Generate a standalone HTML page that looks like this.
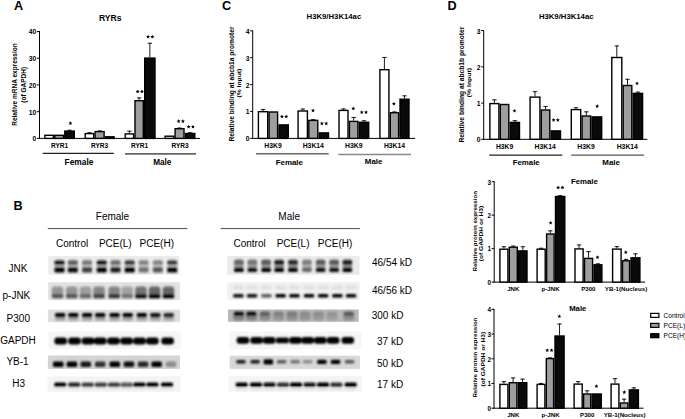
<!DOCTYPE html>
<html><head><meta charset="utf-8"><style>
html,body{margin:0;padding:0;background:#fff;}
body{width:685px;height:419px;overflow:hidden;position:relative;}
</style></head><body>
<svg width="685" height="419" viewBox="0 0 685 419" style="position:absolute;left:0;top:0">
<defs><filter id="b1" x="-20%" y="-50%" width="140%" height="200%"><feGaussianBlur stdDeviation="1.2"/></filter><filter id="be" x="-5%" y="-20%" width="110%" height="140%"><feGaussianBlur stdDeviation="0.6"/></filter><filter id="bb" x="-5%" y="-30%" width="110%" height="160%"><feGaussianBlur stdDeviation="0.8 0.9"/></filter></defs>
<g font-family='"Liberation Sans", sans-serif'>
<text x="14" y="10.4" font-size="12.7" font-weight="bold" text-anchor="start" fill="#000" >A</text>
<text x="110.3" y="21.1" font-size="8.6" font-weight="bold" text-anchor="middle" fill="#000" >RYRs</text>
<line x1="39.5" y1="31.0" x2="39.5" y2="138.9" stroke="#000" stroke-width="1.0"/>
<line x1="39.0" y1="138.4" x2="200" y2="138.4" stroke="#000" stroke-width="1.0"/>
<line x1="37.0" y1="138.4" x2="39.5" y2="138.4" stroke="#000" stroke-width="1.0"/>
<text x="36.2" y="141.368" font-size="6.7410000000000005" font-weight="bold" text-anchor="end" fill="#000" >0</text>
<line x1="37.0" y1="111.67500000000001" x2="39.5" y2="111.67500000000001" stroke="#000" stroke-width="1.0"/>
<text x="36.2" y="114.64300000000001" font-size="6.7410000000000005" font-weight="bold" text-anchor="end" fill="#000" >10</text>
<line x1="37.0" y1="84.95" x2="39.5" y2="84.95" stroke="#000" stroke-width="1.0"/>
<text x="36.2" y="87.918" font-size="6.7410000000000005" font-weight="bold" text-anchor="end" fill="#000" >20</text>
<line x1="37.0" y1="58.224999999999994" x2="39.5" y2="58.224999999999994" stroke="#000" stroke-width="1.0"/>
<text x="36.2" y="61.193" font-size="6.7410000000000005" font-weight="bold" text-anchor="end" fill="#000" >30</text>
<line x1="37.0" y1="31.5" x2="39.5" y2="31.5" stroke="#000" stroke-width="1.0"/>
<text x="36.2" y="34.468" font-size="6.7410000000000005" font-weight="bold" text-anchor="end" fill="#000" >40</text>
<text transform="translate(17.3,84.5) rotate(-90)" x="0" y="0" font-size="6.5" font-weight="bold" text-anchor="middle" fill="#000">Relative mRNA expression</text>
<text transform="translate(25.5,84.8) rotate(-90)" x="0" y="0" font-size="6.5" font-weight="bold" text-anchor="middle" fill="#000">(of GAPDH)</text>
<rect x="44.90" y="135.30" width="8.50" height="3.10" fill="#fff" stroke="#000" stroke-width="1.4"/>
<rect x="54.80" y="135.30" width="8.60" height="3.10" fill="#9e9e9e" stroke="#000" stroke-width="1.4"/>
<line x1="69.55" y1="129.8" x2="69.55" y2="130.4" stroke="#000" stroke-width="0.9"/>
<line x1="67.35" y1="130.25" x2="71.75" y2="130.25" stroke="#000" stroke-width="0.9"/>
<rect x="64.80" y="131.10" width="9.50" height="7.30" fill="#0a0a0a" stroke="#000" stroke-width="1.4"/>
<line x1="89.45" y1="132.3" x2="89.45" y2="132.9" stroke="#000" stroke-width="0.9"/>
<line x1="87.25" y1="132.75" x2="91.65" y2="132.75" stroke="#000" stroke-width="0.9"/>
<rect x="85.20" y="133.60" width="8.50" height="4.80" fill="#fff" stroke="#000" stroke-width="1.4"/>
<line x1="99.6" y1="130.5" x2="99.6" y2="130.9" stroke="#000" stroke-width="0.9"/>
<line x1="97.39999999999999" y1="130.95" x2="101.8" y2="130.95" stroke="#000" stroke-width="0.9"/>
<rect x="95.10" y="131.60" width="9.00" height="6.80" fill="#9e9e9e" stroke="#000" stroke-width="1.4"/>
<rect x="105.50" y="136.80" width="8.60" height="1.60" fill="#0a0a0a" stroke="#000" stroke-width="1.4"/>
<line x1="129.4" y1="130.7" x2="129.4" y2="133.2" stroke="#000" stroke-width="0.9"/>
<line x1="127.2" y1="131.14999999999998" x2="131.6" y2="131.14999999999998" stroke="#000" stroke-width="0.9"/>
<rect x="125.20" y="133.90" width="8.40" height="4.50" fill="#fff" stroke="#000" stroke-width="1.4"/>
<line x1="139.15" y1="97.5" x2="139.15" y2="100" stroke="#000" stroke-width="0.9"/>
<line x1="136.95000000000002" y1="97.95" x2="141.35" y2="97.95" stroke="#000" stroke-width="0.9"/>
<rect x="135.00" y="100.70" width="8.30" height="37.70" fill="#9e9e9e" stroke="#000" stroke-width="1.4"/>
<line x1="149.85" y1="42.8" x2="149.85" y2="57.4" stroke="#000" stroke-width="0.9"/>
<line x1="147.65" y1="43.25" x2="152.04999999999998" y2="43.25" stroke="#000" stroke-width="0.9"/>
<rect x="144.70" y="58.10" width="10.30" height="80.30" fill="#0a0a0a" stroke="#000" stroke-width="1.4"/>
<rect x="165.10" y="136.20" width="8.60" height="2.20" fill="#fff" stroke="#000" stroke-width="1.4"/>
<line x1="179.55" y1="127.6" x2="179.55" y2="128" stroke="#000" stroke-width="0.9"/>
<line x1="177.35000000000002" y1="128.04999999999998" x2="181.75" y2="128.04999999999998" stroke="#000" stroke-width="0.9"/>
<rect x="175.10" y="128.70" width="8.90" height="9.70" fill="#9e9e9e" stroke="#000" stroke-width="1.4"/>
<line x1="190.1" y1="132.3" x2="190.1" y2="132.8" stroke="#000" stroke-width="0.9"/>
<line x1="187.9" y1="132.75" x2="192.29999999999998" y2="132.75" stroke="#000" stroke-width="0.9"/>
<rect x="185.40" y="133.50" width="9.40" height="4.90" fill="#0a0a0a" stroke="#000" stroke-width="1.4"/>
<polygon points="70.40,121.15 70.96,122.49 72.40,122.60 71.30,123.54 71.63,124.95 70.40,124.19 69.17,124.95 69.50,123.54 68.40,122.60 69.84,122.49" fill="#000"/>
<polygon points="137.65,89.50 138.21,90.84 139.65,90.95 138.55,91.89 138.88,93.30 137.65,92.54 136.42,93.30 136.75,91.89 135.65,90.95 137.09,90.84" fill="#000"/>
<polygon points="141.95,89.50 142.51,90.84 143.95,90.95 142.85,91.89 143.18,93.30 141.95,92.54 140.72,93.30 141.05,91.89 139.95,90.95 141.39,90.84" fill="#000"/>
<polygon points="148.10,34.75 148.66,36.09 150.10,36.20 149.00,37.14 149.33,38.55 148.10,37.80 146.87,38.55 147.20,37.14 146.10,36.20 147.54,36.09" fill="#000"/>
<polygon points="152.40,34.75 152.96,36.09 154.40,36.20 153.30,37.14 153.63,38.55 152.40,37.80 151.17,38.55 151.50,37.14 150.40,36.20 151.84,36.09" fill="#000"/>
<polygon points="178.65,119.10 179.21,120.44 180.65,120.55 179.55,121.49 179.88,122.90 178.65,122.14 177.42,122.90 177.75,121.49 176.65,120.55 178.09,120.44" fill="#000"/>
<polygon points="182.95,119.10 183.51,120.44 184.95,120.55 183.85,121.49 184.18,122.90 182.95,122.14 181.72,122.90 182.05,121.49 180.95,120.55 182.39,120.44" fill="#000"/>
<polygon points="188.65,124.70 189.21,126.04 190.65,126.15 189.55,127.09 189.88,128.50 188.65,127.74 187.42,128.50 187.75,127.09 186.65,126.15 188.09,126.04" fill="#000"/>
<polygon points="192.95,124.70 193.51,126.04 194.95,126.15 193.85,127.09 194.18,128.50 192.95,127.74 191.72,128.50 192.05,127.09 190.95,126.15 192.39,126.04" fill="#000"/>
<text x="59.6" y="148.3" font-size="6.5" font-weight="bold" text-anchor="middle" fill="#000" >RYR1</text>
<text x="99.6" y="148.3" font-size="6.5" font-weight="bold" text-anchor="middle" fill="#000" >RYR3</text>
<text x="139.6" y="148.3" font-size="6.5" font-weight="bold" text-anchor="middle" fill="#000" >RYR1</text>
<text x="180" y="148.3" font-size="6.5" font-weight="bold" text-anchor="middle" fill="#000" >RYR3</text>
<line x1="42.7" y1="153.4" x2="113.8" y2="153.4" stroke="#222" stroke-width="1.3"/>
<line x1="125" y1="153.9" x2="196" y2="153.9" stroke="#666" stroke-width="1.6"/>
<text x="79" y="165" font-size="8.4" font-weight="bold" text-anchor="middle" fill="#000" >Female</text>
<text x="162.3" y="164.7" font-size="8.2" font-weight="bold" text-anchor="middle" fill="#000" >Male</text>
<text x="221.9" y="10.4" font-size="12.7" font-weight="bold" text-anchor="start" fill="#000" >C</text>
<text x="333.9" y="19.4" font-size="7.6" font-weight="bold" text-anchor="middle" fill="#000" textLength="54.6" lengthAdjust="spacingAndGlyphs">H3K9/H3K14ac</text>
<line x1="252.7" y1="30.3" x2="252.7" y2="138.9" stroke="#000" stroke-width="1.0"/>
<line x1="252.2" y1="138.4" x2="415.1" y2="138.4" stroke="#000" stroke-width="1.0"/>
<line x1="250.2" y1="138.4" x2="252.7" y2="138.4" stroke="#000" stroke-width="1.0"/>
<text x="249.6" y="141.368" font-size="6.7410000000000005" font-weight="bold" text-anchor="end" fill="#000" >0</text>
<line x1="250.2" y1="111.5" x2="252.7" y2="111.5" stroke="#000" stroke-width="1.0"/>
<text x="249.6" y="114.468" font-size="6.7410000000000005" font-weight="bold" text-anchor="end" fill="#000" >1</text>
<line x1="250.2" y1="84.6" x2="252.7" y2="84.6" stroke="#000" stroke-width="1.0"/>
<text x="249.6" y="87.568" font-size="6.7410000000000005" font-weight="bold" text-anchor="end" fill="#000" >2</text>
<line x1="250.2" y1="57.7" x2="252.7" y2="57.7" stroke="#000" stroke-width="1.0"/>
<text x="249.6" y="60.668000000000006" font-size="6.7410000000000005" font-weight="bold" text-anchor="end" fill="#000" >3</text>
<line x1="250.2" y1="30.799999999999997" x2="252.7" y2="30.799999999999997" stroke="#000" stroke-width="1.0"/>
<text x="249.6" y="33.768" font-size="6.7410000000000005" font-weight="bold" text-anchor="end" fill="#000" >4</text>
<text transform="translate(233.6,84.0) rotate(-90)" x="0" y="0" font-size="6.6" font-weight="bold" text-anchor="middle" fill="#000" textLength="115" lengthAdjust="spacingAndGlyphs">Relative binding at abcb1a promoter</text>
<text transform="translate(241,83.1) rotate(-90)" x="0" y="0" font-size="6.1" font-weight="bold" text-anchor="middle" fill="#000" textLength="28.8" lengthAdjust="spacingAndGlyphs">(% Input)</text>
<line x1="263.04999999999995" y1="109" x2="263.04999999999995" y2="111" stroke="#000" stroke-width="0.9"/>
<line x1="260.84999999999997" y1="109.45" x2="265.24999999999994" y2="109.45" stroke="#000" stroke-width="0.9"/>
<rect x="258.40" y="111.70" width="9.30" height="26.70" fill="#fff" stroke="#000" stroke-width="1.4"/>
<rect x="269.10" y="112.00" width="8.50" height="26.40" fill="#9e9e9e" stroke="#000" stroke-width="1.4"/>
<rect x="279.00" y="124.90" width="9.30" height="13.50" fill="#0a0a0a" stroke="#000" stroke-width="1.4"/>
<line x1="302.75" y1="108.6" x2="302.75" y2="110.3" stroke="#000" stroke-width="0.9"/>
<line x1="300.55" y1="109.05" x2="304.95" y2="109.05" stroke="#000" stroke-width="0.9"/>
<rect x="298.10" y="111.00" width="9.30" height="27.40" fill="#fff" stroke="#000" stroke-width="1.4"/>
<line x1="313.3" y1="119.2" x2="313.3" y2="119.7" stroke="#000" stroke-width="0.9"/>
<line x1="311.1" y1="119.65" x2="315.5" y2="119.65" stroke="#000" stroke-width="0.9"/>
<rect x="308.80" y="120.40" width="9.00" height="18.00" fill="#9e9e9e" stroke="#000" stroke-width="1.4"/>
<rect x="319.20" y="132.90" width="9.30" height="5.50" fill="#0a0a0a" stroke="#000" stroke-width="1.4"/>
<line x1="343.5" y1="108.5" x2="343.5" y2="109.7" stroke="#000" stroke-width="0.9"/>
<line x1="341.3" y1="108.95" x2="345.7" y2="108.95" stroke="#000" stroke-width="0.9"/>
<rect x="339.00" y="110.40" width="9.00" height="28.00" fill="#fff" stroke="#000" stroke-width="1.4"/>
<line x1="353.65" y1="117" x2="353.65" y2="120.7" stroke="#000" stroke-width="0.9"/>
<line x1="351.45" y1="117.45" x2="355.84999999999997" y2="117.45" stroke="#000" stroke-width="0.9"/>
<rect x="349.40" y="121.40" width="8.50" height="17.00" fill="#9e9e9e" stroke="#000" stroke-width="1.4"/>
<line x1="364.0" y1="120.3" x2="364.0" y2="121.6" stroke="#000" stroke-width="0.9"/>
<line x1="361.8" y1="120.75" x2="366.2" y2="120.75" stroke="#000" stroke-width="0.9"/>
<rect x="359.30" y="122.30" width="9.40" height="16.10" fill="#0a0a0a" stroke="#000" stroke-width="1.4"/>
<line x1="384.4" y1="57" x2="384.4" y2="69" stroke="#000" stroke-width="0.9"/>
<line x1="382.2" y1="57.45" x2="386.59999999999997" y2="57.45" stroke="#000" stroke-width="0.9"/>
<rect x="379.90" y="69.70" width="9.00" height="68.70" fill="#fff" stroke="#000" stroke-width="1.4"/>
<line x1="394.45000000000005" y1="111.5" x2="394.45000000000005" y2="112" stroke="#000" stroke-width="0.9"/>
<line x1="392.25000000000006" y1="111.95" x2="396.65000000000003" y2="111.95" stroke="#000" stroke-width="0.9"/>
<rect x="390.30" y="112.70" width="8.30" height="25.70" fill="#9e9e9e" stroke="#000" stroke-width="1.4"/>
<line x1="404.5" y1="95.4" x2="404.5" y2="98.5" stroke="#000" stroke-width="0.9"/>
<line x1="402.3" y1="95.85000000000001" x2="406.7" y2="95.85000000000001" stroke="#000" stroke-width="0.9"/>
<rect x="400.00" y="99.20" width="9.00" height="39.20" fill="#0a0a0a" stroke="#000" stroke-width="1.4"/>
<polygon points="281.95,114.50 282.51,115.84 283.95,115.95 282.85,116.89 283.18,118.30 281.95,117.54 280.72,118.30 281.05,116.89 279.95,115.95 281.39,115.84" fill="#000"/>
<polygon points="286.25,114.50 286.81,115.84 288.25,115.95 287.15,116.89 287.48,118.30 286.25,117.54 285.02,118.30 285.35,116.89 284.25,115.95 285.69,115.84" fill="#000"/>
<polygon points="313.00,108.40 313.56,109.74 315.00,109.85 313.90,110.79 314.23,112.20 313.00,111.44 311.77,112.20 312.10,110.79 311.00,109.85 312.44,109.74" fill="#000"/>
<polygon points="321.90,121.40 322.46,122.74 323.90,122.85 322.80,123.79 323.13,125.20 321.90,124.44 320.67,125.20 321.00,123.79 319.90,122.85 321.34,122.74" fill="#000"/>
<polygon points="326.20,121.40 326.76,122.74 328.20,122.85 327.10,123.79 327.43,125.20 326.20,124.44 324.97,125.20 325.30,123.79 324.20,122.85 325.64,122.74" fill="#000"/>
<polygon points="353.30,106.50 353.86,107.84 355.30,107.95 354.20,108.89 354.53,110.30 353.30,109.54 352.07,110.30 352.40,108.89 351.30,107.95 352.74,107.84" fill="#000"/>
<polygon points="361.75,110.20 362.31,111.54 363.75,111.65 362.65,112.59 362.98,114.00 361.75,113.24 360.52,114.00 360.85,112.59 359.75,111.65 361.19,111.54" fill="#000"/>
<polygon points="366.05,110.20 366.61,111.54 368.05,111.65 366.95,112.59 367.28,114.00 366.05,113.24 364.82,114.00 365.15,112.59 364.05,111.65 365.49,111.54" fill="#000"/>
<polygon points="393.90,101.70 394.46,103.04 395.90,103.15 394.80,104.09 395.13,105.50 393.90,104.74 392.67,105.50 393.00,104.09 391.90,103.15 393.34,103.04" fill="#000"/>
<text x="273" y="148.2" font-size="6.8" font-weight="bold" text-anchor="middle" fill="#000" >H3K9</text>
<text x="313.3" y="148.2" font-size="6.8" font-weight="bold" text-anchor="middle" fill="#000" >H3K14</text>
<text x="353.8" y="148.2" font-size="6.8" font-weight="bold" text-anchor="middle" fill="#000" >H3K9</text>
<text x="394.5" y="148.2" font-size="6.8" font-weight="bold" text-anchor="middle" fill="#000" >H3K14</text>
<line x1="256" y1="153.8" x2="328.7" y2="153.8" stroke="#666" stroke-width="1.6"/>
<line x1="338.3" y1="154.5" x2="411" y2="154.5" stroke="#888" stroke-width="1.3"/>
<text x="289.3" y="164.5" font-size="8.0" font-weight="bold" text-anchor="middle" fill="#000" textLength="27.3" lengthAdjust="spacingAndGlyphs">Female</text>
<text x="373.6" y="164.4" font-size="8.0" font-weight="bold" text-anchor="middle" fill="#000" textLength="17.6" lengthAdjust="spacingAndGlyphs">Male</text>
<text x="447.5" y="10.4" font-size="12.7" font-weight="bold" text-anchor="start" fill="#000" >D</text>
<text x="566.2" y="19.4" font-size="7.6" font-weight="bold" text-anchor="middle" fill="#000" textLength="54.6" lengthAdjust="spacingAndGlyphs">H3K9/H3K14ac</text>
<line x1="483.7" y1="30.1" x2="483.7" y2="139.8" stroke="#000" stroke-width="1.0"/>
<line x1="483.2" y1="139.3" x2="647.4" y2="139.3" stroke="#000" stroke-width="1.0"/>
<line x1="481.2" y1="139.3" x2="483.7" y2="139.3" stroke="#000" stroke-width="1.0"/>
<text x="480.6" y="142.268" font-size="6.7410000000000005" font-weight="bold" text-anchor="end" fill="#000" >0</text>
<line x1="481.2" y1="103.06666666666666" x2="483.7" y2="103.06666666666666" stroke="#000" stroke-width="1.0"/>
<text x="480.6" y="106.03466666666667" font-size="6.7410000000000005" font-weight="bold" text-anchor="end" fill="#000" >1</text>
<line x1="481.2" y1="66.83333333333333" x2="483.7" y2="66.83333333333333" stroke="#000" stroke-width="1.0"/>
<text x="480.6" y="69.80133333333333" font-size="6.7410000000000005" font-weight="bold" text-anchor="end" fill="#000" >2</text>
<line x1="481.2" y1="30.599999999999994" x2="483.7" y2="30.599999999999994" stroke="#000" stroke-width="1.0"/>
<text x="480.6" y="33.568" font-size="6.7410000000000005" font-weight="bold" text-anchor="end" fill="#000" >3</text>
<text transform="translate(463.6,84.6) rotate(-90)" x="0" y="0" font-size="6.6" font-weight="bold" text-anchor="middle" fill="#000" textLength="116" lengthAdjust="spacingAndGlyphs">Relative binding at abcb1b promoter</text>
<text transform="translate(470.5,82.6) rotate(-90)" x="0" y="0" font-size="6.1" font-weight="bold" text-anchor="middle" fill="#000" textLength="29.2" lengthAdjust="spacingAndGlyphs">(% Input)</text>
<line x1="494.4" y1="99.4" x2="494.4" y2="102.9" stroke="#000" stroke-width="0.9"/>
<line x1="492.2" y1="99.85000000000001" x2="496.59999999999997" y2="99.85000000000001" stroke="#000" stroke-width="0.9"/>
<rect x="489.90" y="103.60" width="9.00" height="35.70" fill="#fff" stroke="#000" stroke-width="1.4"/>
<rect x="500.30" y="104.50" width="8.50" height="34.80" fill="#9e9e9e" stroke="#000" stroke-width="1.4"/>
<line x1="514.85" y1="120.2" x2="514.85" y2="121.7" stroke="#000" stroke-width="0.9"/>
<line x1="512.65" y1="120.65" x2="517.0500000000001" y2="120.65" stroke="#000" stroke-width="0.9"/>
<rect x="510.20" y="122.40" width="9.30" height="16.90" fill="#0a0a0a" stroke="#000" stroke-width="1.4"/>
<line x1="535.0" y1="91.2" x2="535.0" y2="96.4" stroke="#000" stroke-width="0.9"/>
<line x1="532.8" y1="91.65" x2="537.2" y2="91.65" stroke="#000" stroke-width="0.9"/>
<rect x="530.10" y="97.10" width="9.80" height="42.20" fill="#fff" stroke="#000" stroke-width="1.4"/>
<line x1="545.55" y1="106" x2="545.55" y2="109.3" stroke="#000" stroke-width="0.9"/>
<line x1="543.3499999999999" y1="106.45" x2="547.75" y2="106.45" stroke="#000" stroke-width="0.9"/>
<rect x="541.30" y="110.00" width="8.50" height="29.30" fill="#9e9e9e" stroke="#000" stroke-width="1.4"/>
<rect x="551.20" y="130.90" width="9.30" height="8.40" fill="#0a0a0a" stroke="#000" stroke-width="1.4"/>
<line x1="576.0" y1="107.3" x2="576.0" y2="108.9" stroke="#000" stroke-width="0.9"/>
<line x1="573.8" y1="107.75" x2="578.2" y2="107.75" stroke="#000" stroke-width="0.9"/>
<rect x="571.30" y="109.60" width="9.40" height="29.70" fill="#fff" stroke="#000" stroke-width="1.4"/>
<line x1="586.3499999999999" y1="111.4" x2="586.3499999999999" y2="115.3" stroke="#000" stroke-width="0.9"/>
<line x1="584.1499999999999" y1="111.85000000000001" x2="588.55" y2="111.85000000000001" stroke="#000" stroke-width="0.9"/>
<rect x="582.10" y="116.00" width="8.50" height="23.30" fill="#9e9e9e" stroke="#000" stroke-width="1.4"/>
<rect x="592.00" y="116.90" width="9.70" height="22.40" fill="#0a0a0a" stroke="#000" stroke-width="1.4"/>
<line x1="616.8" y1="45.5" x2="616.8" y2="56.8" stroke="#000" stroke-width="0.9"/>
<line x1="614.5999999999999" y1="45.95" x2="619.0" y2="45.95" stroke="#000" stroke-width="0.9"/>
<rect x="611.80" y="57.50" width="10.00" height="81.80" fill="#fff" stroke="#000" stroke-width="1.4"/>
<line x1="627.5" y1="78.8" x2="627.5" y2="84.8" stroke="#000" stroke-width="0.9"/>
<line x1="625.3" y1="79.25" x2="629.7" y2="79.25" stroke="#000" stroke-width="0.9"/>
<rect x="623.20" y="85.50" width="8.60" height="53.80" fill="#9e9e9e" stroke="#000" stroke-width="1.4"/>
<line x1="637.9" y1="91.7" x2="637.9" y2="92.7" stroke="#000" stroke-width="0.9"/>
<line x1="635.6999999999999" y1="92.15" x2="640.1" y2="92.15" stroke="#000" stroke-width="0.9"/>
<rect x="633.20" y="93.40" width="9.40" height="45.90" fill="#0a0a0a" stroke="#000" stroke-width="1.4"/>
<polygon points="514.50,108.80 515.06,110.14 516.50,110.25 515.40,111.19 515.73,112.60 514.50,111.84 513.27,112.60 513.60,111.19 512.50,110.25 513.94,110.14" fill="#000"/>
<polygon points="553.55,117.90 554.11,119.24 555.55,119.35 554.45,120.29 554.78,121.70 553.55,120.94 552.32,121.70 552.65,120.29 551.55,119.35 552.99,119.24" fill="#000"/>
<polygon points="557.85,117.90 558.41,119.24 559.85,119.35 558.75,120.29 559.08,121.70 557.85,120.94 556.62,121.70 556.95,120.29 555.85,119.35 557.29,119.24" fill="#000"/>
<polygon points="597.20,104.10 597.76,105.44 599.20,105.55 598.10,106.49 598.43,107.90 597.20,107.14 595.97,107.90 596.30,106.49 595.20,105.55 596.64,105.44" fill="#000"/>
<polygon points="637.00,81.30 637.56,82.64 639.00,82.75 637.90,83.69 638.23,85.10 637.00,84.34 635.77,85.10 636.10,83.69 635.00,82.75 636.44,82.64" fill="#000"/>
<text x="504.6" y="149" font-size="6.8" font-weight="bold" text-anchor="middle" fill="#000" >H3K9</text>
<text x="545.2" y="149" font-size="6.8" font-weight="bold" text-anchor="middle" fill="#000" >H3K14</text>
<text x="586" y="149" font-size="6.8" font-weight="bold" text-anchor="middle" fill="#000" >H3K9</text>
<text x="627.3" y="149" font-size="6.8" font-weight="bold" text-anchor="middle" fill="#000" >H3K14</text>
<line x1="489.2" y1="155.1" x2="562.3" y2="155.1" stroke="#222" stroke-width="1.2"/>
<line x1="571.2" y1="155.1" x2="643.9" y2="155.1" stroke="#555" stroke-width="1.1"/>
<text x="526.2" y="165.4" font-size="8.0" font-weight="bold" text-anchor="middle" fill="#000" textLength="27.1" lengthAdjust="spacingAndGlyphs">Female</text>
<text x="611.1" y="165.3" font-size="8.0" font-weight="bold" text-anchor="middle" fill="#000" textLength="17.6" lengthAdjust="spacingAndGlyphs">Male</text>
<line x1="494.2" y1="181.2" x2="494.2" y2="282.6" stroke="#000" stroke-width="1.0"/>
<line x1="493.7" y1="282.1" x2="645.2" y2="282.1" stroke="#000" stroke-width="1.0"/>
<line x1="491.7" y1="282.1" x2="494.2" y2="282.1" stroke="#000" stroke-width="1.0"/>
<text x="491.2" y="284.96000000000004" font-size="6.42" font-weight="bold" text-anchor="end" fill="#000" >0</text>
<line x1="491.7" y1="248.63333333333335" x2="494.2" y2="248.63333333333335" stroke="#000" stroke-width="1.0"/>
<text x="491.2" y="251.49333333333334" font-size="6.42" font-weight="bold" text-anchor="end" fill="#000" >1</text>
<line x1="491.7" y1="215.16666666666669" x2="494.2" y2="215.16666666666669" stroke="#000" stroke-width="1.0"/>
<text x="491.2" y="218.02666666666667" font-size="6.42" font-weight="bold" text-anchor="end" fill="#000" >2</text>
<line x1="491.7" y1="181.7" x2="494.2" y2="181.7" stroke="#000" stroke-width="1.0"/>
<text x="491.2" y="184.55999999999997" font-size="6.42" font-weight="bold" text-anchor="end" fill="#000" >3</text>
<text transform="translate(477.2,231.3) rotate(-90)" x="0" y="0" font-size="6.1" font-weight="bold" text-anchor="middle" fill="#000" textLength="80.5" lengthAdjust="spacingAndGlyphs">Relative protein expression</text>
<text transform="translate(483.4,233.5) rotate(-90)" x="0" y="0" font-size="6.1" font-weight="bold" text-anchor="middle" fill="#000" textLength="55.5" lengthAdjust="spacingAndGlyphs">(of GAPDH or H3)</text>
<text x="584.4" y="184.2" font-size="7.8" font-weight="bold" text-anchor="middle" fill="#000" >Female</text>
<line x1="503.9" y1="246.3" x2="503.9" y2="248.5" stroke="#000" stroke-width="0.9"/>
<line x1="501.7" y1="246.75" x2="506.09999999999997" y2="246.75" stroke="#000" stroke-width="0.9"/>
<rect x="499.90" y="249.20" width="8.00" height="32.90" fill="#fff" stroke="#000" stroke-width="1.4"/>
<line x1="513.3" y1="245.6" x2="513.3" y2="246.5" stroke="#000" stroke-width="0.9"/>
<line x1="511.09999999999997" y1="246.04999999999998" x2="515.5" y2="246.04999999999998" stroke="#000" stroke-width="0.9"/>
<rect x="509.30" y="247.20" width="8.00" height="34.90" fill="#9e9e9e" stroke="#000" stroke-width="1.4"/>
<line x1="522.85" y1="246.3" x2="522.85" y2="250.2" stroke="#000" stroke-width="0.9"/>
<line x1="520.65" y1="246.75" x2="525.0500000000001" y2="246.75" stroke="#000" stroke-width="0.9"/>
<rect x="518.70" y="250.90" width="8.30" height="31.20" fill="#0a0a0a" stroke="#000" stroke-width="1.4"/>
<line x1="541.15" y1="247.8" x2="541.15" y2="248.5" stroke="#000" stroke-width="0.9"/>
<line x1="538.9499999999999" y1="248.25" x2="543.35" y2="248.25" stroke="#000" stroke-width="0.9"/>
<rect x="537.10" y="249.20" width="8.10" height="32.90" fill="#fff" stroke="#000" stroke-width="1.4"/>
<line x1="550.3499999999999" y1="230.4" x2="550.3499999999999" y2="233.3" stroke="#000" stroke-width="0.9"/>
<line x1="548.1499999999999" y1="230.85" x2="552.55" y2="230.85" stroke="#000" stroke-width="0.9"/>
<rect x="546.60" y="234.00" width="7.50" height="48.10" fill="#9e9e9e" stroke="#000" stroke-width="1.4"/>
<line x1="560.15" y1="195.2" x2="560.15" y2="195.8" stroke="#000" stroke-width="0.9"/>
<line x1="557.9499999999999" y1="195.64999999999998" x2="562.35" y2="195.64999999999998" stroke="#000" stroke-width="0.9"/>
<rect x="555.50" y="196.50" width="9.30" height="85.60" fill="#0a0a0a" stroke="#000" stroke-width="1.4"/>
<line x1="579.05" y1="244.5" x2="579.05" y2="248.2" stroke="#000" stroke-width="0.9"/>
<line x1="576.8499999999999" y1="244.95" x2="581.25" y2="244.95" stroke="#000" stroke-width="0.9"/>
<rect x="575.00" y="248.90" width="8.10" height="33.20" fill="#fff" stroke="#000" stroke-width="1.4"/>
<line x1="588.55" y1="251.2" x2="588.55" y2="257.7" stroke="#000" stroke-width="0.9"/>
<line x1="586.3499999999999" y1="251.64999999999998" x2="590.75" y2="251.64999999999998" stroke="#000" stroke-width="0.9"/>
<rect x="584.50" y="258.40" width="8.10" height="23.70" fill="#9e9e9e" stroke="#000" stroke-width="1.4"/>
<line x1="597.95" y1="263.4" x2="597.95" y2="264.1" stroke="#000" stroke-width="0.9"/>
<line x1="595.75" y1="263.84999999999997" x2="600.1500000000001" y2="263.84999999999997" stroke="#000" stroke-width="0.9"/>
<rect x="594.00" y="264.80" width="7.90" height="17.30" fill="#0a0a0a" stroke="#000" stroke-width="1.4"/>
<line x1="616.8499999999999" y1="246.2" x2="616.8499999999999" y2="248.4" stroke="#000" stroke-width="0.9"/>
<line x1="614.6499999999999" y1="246.64999999999998" x2="619.05" y2="246.64999999999998" stroke="#000" stroke-width="0.9"/>
<rect x="612.60" y="249.10" width="8.50" height="33.00" fill="#fff" stroke="#000" stroke-width="1.4"/>
<line x1="626.05" y1="258.9" x2="626.05" y2="260.1" stroke="#000" stroke-width="0.9"/>
<line x1="623.8499999999999" y1="259.34999999999997" x2="628.25" y2="259.34999999999997" stroke="#000" stroke-width="0.9"/>
<rect x="622.50" y="260.80" width="7.10" height="21.30" fill="#9e9e9e" stroke="#000" stroke-width="1.4"/>
<line x1="635.45" y1="253.4" x2="635.45" y2="257.1" stroke="#000" stroke-width="0.9"/>
<line x1="633.25" y1="253.85" x2="637.6500000000001" y2="253.85" stroke="#000" stroke-width="0.9"/>
<rect x="631.00" y="257.80" width="8.90" height="24.30" fill="#0a0a0a" stroke="#000" stroke-width="1.4"/>
<polygon points="550.60,220.80 551.16,222.14 552.60,222.25 551.50,223.19 551.83,224.60 550.60,223.84 549.37,224.60 549.70,223.19 548.60,222.25 550.04,222.14" fill="#000"/>
<polygon points="558.15,185.50 558.71,186.84 560.15,186.95 559.05,187.89 559.38,189.30 558.15,188.54 556.92,189.30 557.25,187.89 556.15,186.95 557.59,186.84" fill="#000"/>
<polygon points="562.45,185.50 563.01,186.84 564.45,186.95 563.35,187.89 563.68,189.30 562.45,188.54 561.22,189.30 561.55,187.89 560.45,186.95 561.89,186.84" fill="#000"/>
<polygon points="597.50,255.20 598.06,256.54 599.50,256.65 598.40,257.59 598.73,259.00 597.50,258.25 596.27,259.00 596.60,257.59 595.50,256.65 596.94,256.54" fill="#000"/>
<polygon points="625.80,250.20 626.36,251.54 627.80,251.65 626.70,252.59 627.03,254.00 625.80,253.25 624.57,254.00 624.90,252.59 623.80,251.65 625.24,251.54" fill="#000"/>
<text x="513.3" y="290.8" font-size="6.1" font-weight="bold" text-anchor="middle" fill="#000" >JNK</text>
<text x="550.6" y="290.8" font-size="6.1" font-weight="bold" text-anchor="middle" fill="#000" >p-JNK</text>
<text x="588.3" y="290.8" font-size="6.1" font-weight="bold" text-anchor="middle" fill="#000" >P300</text>
<text x="626.05" y="290.8" font-size="6.1" font-weight="bold" text-anchor="middle" fill="#000" textLength="42.4" lengthAdjust="spacingAndGlyphs">YB-1(Nucleus)</text>
<line x1="494.0" y1="308.8" x2="494.0" y2="408.7" stroke="#000" stroke-width="1.0"/>
<line x1="493.5" y1="408.2" x2="643.5" y2="408.2" stroke="#000" stroke-width="1.0"/>
<line x1="491.5" y1="408.2" x2="494.0" y2="408.2" stroke="#000" stroke-width="1.0"/>
<text x="491.0" y="411.06" font-size="6.42" font-weight="bold" text-anchor="end" fill="#000" >0</text>
<line x1="491.5" y1="383.475" x2="494.0" y2="383.475" stroke="#000" stroke-width="1.0"/>
<text x="491.0" y="386.33500000000004" font-size="6.42" font-weight="bold" text-anchor="end" fill="#000" >1</text>
<line x1="491.5" y1="358.75" x2="494.0" y2="358.75" stroke="#000" stroke-width="1.0"/>
<text x="491.0" y="361.61" font-size="6.42" font-weight="bold" text-anchor="end" fill="#000" >2</text>
<line x1="491.5" y1="334.025" x2="494.0" y2="334.025" stroke="#000" stroke-width="1.0"/>
<text x="491.0" y="336.885" font-size="6.42" font-weight="bold" text-anchor="end" fill="#000" >3</text>
<line x1="491.5" y1="309.3" x2="494.0" y2="309.3" stroke="#000" stroke-width="1.0"/>
<text x="491.0" y="312.16" font-size="6.42" font-weight="bold" text-anchor="end" fill="#000" >4</text>
<text transform="translate(477.2,357.6) rotate(-90)" x="0" y="0" font-size="6.1" font-weight="bold" text-anchor="middle" fill="#000" textLength="80" lengthAdjust="spacingAndGlyphs">Relative protein expression</text>
<text transform="translate(484.6,359.2) rotate(-90)" x="0" y="0" font-size="6.1" font-weight="bold" text-anchor="middle" fill="#000" textLength="54.6" lengthAdjust="spacingAndGlyphs">(of GAPDH or H3)</text>
<text x="577.8" y="311.3" font-size="7.8" font-weight="bold" text-anchor="middle" fill="#000" >Male</text>
<line x1="503.9" y1="381.2" x2="503.9" y2="383.7" stroke="#000" stroke-width="0.9"/>
<line x1="501.7" y1="381.65" x2="506.09999999999997" y2="381.65" stroke="#000" stroke-width="0.9"/>
<rect x="499.90" y="384.40" width="8.00" height="23.80" fill="#fff" stroke="#000" stroke-width="1.4"/>
<line x1="513.1" y1="377.5" x2="513.1" y2="382" stroke="#000" stroke-width="0.9"/>
<line x1="510.90000000000003" y1="377.95" x2="515.3000000000001" y2="377.95" stroke="#000" stroke-width="0.9"/>
<rect x="509.30" y="382.70" width="7.60" height="25.50" fill="#9e9e9e" stroke="#000" stroke-width="1.4"/>
<line x1="522.55" y1="378.7" x2="522.55" y2="382" stroke="#000" stroke-width="0.9"/>
<line x1="520.3499999999999" y1="379.15" x2="524.75" y2="379.15" stroke="#000" stroke-width="0.9"/>
<rect x="518.30" y="382.70" width="8.50" height="25.50" fill="#0a0a0a" stroke="#000" stroke-width="1.4"/>
<line x1="541.0" y1="383" x2="541.0" y2="383.7" stroke="#000" stroke-width="0.9"/>
<line x1="538.8" y1="383.45" x2="543.2" y2="383.45" stroke="#000" stroke-width="0.9"/>
<rect x="537.10" y="384.40" width="7.80" height="23.80" fill="#fff" stroke="#000" stroke-width="1.4"/>
<line x1="549.95" y1="357.4" x2="549.95" y2="357.9" stroke="#000" stroke-width="0.9"/>
<line x1="547.75" y1="357.84999999999997" x2="552.1500000000001" y2="357.84999999999997" stroke="#000" stroke-width="0.9"/>
<rect x="546.30" y="358.60" width="7.30" height="49.60" fill="#9e9e9e" stroke="#000" stroke-width="1.4"/>
<line x1="559.55" y1="323.6" x2="559.55" y2="335.3" stroke="#000" stroke-width="0.9"/>
<line x1="557.3499999999999" y1="324.05" x2="561.75" y2="324.05" stroke="#000" stroke-width="0.9"/>
<rect x="555.00" y="336.00" width="9.10" height="72.20" fill="#0a0a0a" stroke="#000" stroke-width="1.4"/>
<line x1="578.15" y1="381.2" x2="578.15" y2="383.4" stroke="#000" stroke-width="0.9"/>
<line x1="575.9499999999999" y1="381.65" x2="580.35" y2="381.65" stroke="#000" stroke-width="0.9"/>
<rect x="574.10" y="384.10" width="8.10" height="24.10" fill="#fff" stroke="#000" stroke-width="1.4"/>
<line x1="587.15" y1="390.4" x2="587.15" y2="393.3" stroke="#000" stroke-width="0.9"/>
<line x1="584.9499999999999" y1="390.84999999999997" x2="589.35" y2="390.84999999999997" stroke="#000" stroke-width="0.9"/>
<rect x="583.60" y="394.00" width="7.10" height="14.20" fill="#9e9e9e" stroke="#000" stroke-width="1.4"/>
<rect x="592.10" y="394.00" width="9.20" height="14.20" fill="#0a0a0a" stroke="#000" stroke-width="1.4"/>
<line x1="615.0" y1="378.2" x2="615.0" y2="383.4" stroke="#000" stroke-width="0.9"/>
<line x1="612.8" y1="378.65" x2="617.2" y2="378.65" stroke="#000" stroke-width="0.9"/>
<rect x="611.10" y="384.10" width="7.80" height="24.10" fill="#fff" stroke="#000" stroke-width="1.4"/>
<line x1="624.1" y1="398.7" x2="624.1" y2="402.3" stroke="#000" stroke-width="0.9"/>
<line x1="621.9" y1="399.15" x2="626.3000000000001" y2="399.15" stroke="#000" stroke-width="0.9"/>
<rect x="620.30" y="403.00" width="7.60" height="5.20" fill="#9e9e9e" stroke="#000" stroke-width="1.4"/>
<line x1="633.85" y1="387.4" x2="633.85" y2="389.2" stroke="#000" stroke-width="0.9"/>
<line x1="631.65" y1="387.84999999999997" x2="636.0500000000001" y2="387.84999999999997" stroke="#000" stroke-width="0.9"/>
<rect x="629.30" y="389.90" width="9.10" height="18.30" fill="#0a0a0a" stroke="#000" stroke-width="1.4"/>
<polygon points="547.25,348.20 547.81,349.54 549.25,349.65 548.15,350.59 548.48,352.00 547.25,351.25 546.02,352.00 546.35,350.59 545.25,349.65 546.69,349.54" fill="#000"/>
<polygon points="551.55,348.20 552.11,349.54 553.55,349.65 552.45,350.59 552.78,352.00 551.55,351.25 550.32,352.00 550.65,350.59 549.55,349.65 550.99,349.54" fill="#000"/>
<polygon points="559.30,314.30 559.86,315.64 561.30,315.75 560.20,316.69 560.53,318.10 559.30,317.34 558.07,318.10 558.40,316.69 557.30,315.75 558.74,315.64" fill="#000"/>
<polygon points="596.40,384.10 596.96,385.44 598.40,385.55 597.30,386.49 597.63,387.90 596.40,387.14 595.17,387.90 595.50,386.49 594.40,385.55 595.84,385.44" fill="#000"/>
<polygon points="624.30,390.10 624.86,391.44 626.30,391.55 625.20,392.49 625.53,393.90 624.30,393.14 623.07,393.90 623.40,392.49 622.30,391.55 623.74,391.44" fill="#000"/>
<text x="513.3" y="417" font-size="6.1" font-weight="bold" text-anchor="middle" fill="#000" >JNK</text>
<text x="550.6" y="417" font-size="6.1" font-weight="bold" text-anchor="middle" fill="#000" >p-JNK</text>
<text x="587.2" y="417" font-size="6.1" font-weight="bold" text-anchor="middle" fill="#000" >P300</text>
<text x="624.6" y="417" font-size="6.1" font-weight="bold" text-anchor="middle" fill="#000" textLength="41.8" lengthAdjust="spacingAndGlyphs">YB-1(Nucleus)</text>
<rect x="650.7" y="313.40000000000003" width="8.200000000000001" height="4.0" fill="#fff" stroke="#000" stroke-width="1.2"/>
<text x="663.5" y="318.0" font-size="6.6" font-weight="normal" text-anchor="start" fill="#000" >Control</text>
<rect x="650.7" y="323.40000000000003" width="8.200000000000001" height="4.0" fill="#9e9e9e" stroke="#000" stroke-width="1.2"/>
<text x="663.5" y="328.0" font-size="6.6" font-weight="normal" text-anchor="start" fill="#000" >PCE(L)</text>
<rect x="650.7" y="333.70000000000005" width="8.200000000000001" height="4.0" fill="#0a0a0a" stroke="#000" stroke-width="1.2"/>
<text x="663.5" y="338.3" font-size="6.6" font-weight="normal" text-anchor="start" fill="#000" >PCE(H)</text>
<text x="13.4" y="210.1" font-size="12.7" font-weight="bold" text-anchor="start" fill="#000" >B</text>
<text x="112.5" y="220.1" font-size="10" font-weight="normal" text-anchor="middle" fill="#000" >Female</text>
<text x="289.2" y="220.1" font-size="10" font-weight="normal" text-anchor="middle" fill="#000" >Male</text>
<line x1="47.8" y1="228.6" x2="187.3" y2="228.6" stroke="#4a4a4a" stroke-width="1.0"/>
<line x1="220.7" y1="228.6" x2="359.9" y2="228.6" stroke="#4a4a4a" stroke-width="1.0"/>
<text x="72.1" y="246.9" font-size="10" font-weight="normal" text-anchor="middle" fill="#000" >Control</text>
<text x="115.3" y="246.9" font-size="10" font-weight="normal" text-anchor="middle" fill="#000" >PCE(L)</text>
<text x="156.8" y="246.9" font-size="10" font-weight="normal" text-anchor="middle" fill="#000" >PCE(H)</text>
<text x="249.6" y="246.9" font-size="10" font-weight="normal" text-anchor="middle" fill="#000" >Control</text>
<text x="293.1" y="246.9" font-size="10" font-weight="normal" text-anchor="middle" fill="#000" >PCE(L)</text>
<text x="335.1" y="246.9" font-size="10" font-weight="normal" text-anchor="middle" fill="#000" >PCE(H)</text>
<text x="18" y="272" font-size="10" font-weight="normal" text-anchor="middle" fill="#000" >JNK</text>
<text x="16.4" y="298.7" font-size="10" font-weight="normal" text-anchor="middle" fill="#000" >p-JNK</text>
<text x="18.3" y="322" font-size="10" font-weight="normal" text-anchor="middle" fill="#000" >P300</text>
<text x="18" y="343.8" font-size="10" font-weight="normal" text-anchor="middle" fill="#000" >GAPDH</text>
<text x="17.5" y="365" font-size="10" font-weight="normal" text-anchor="middle" fill="#000" >YB-1</text>
<text x="18.7" y="386.8" font-size="10" font-weight="normal" text-anchor="middle" fill="#000" >H3</text>
<text x="372" y="265.6" font-size="10" font-weight="normal" text-anchor="start" fill="#000" >46/54 kD</text>
<text x="372" y="293.5" font-size="10" font-weight="normal" text-anchor="start" fill="#000" >46/56 kD</text>
<text x="371.7" y="319.3" font-size="10" font-weight="normal" text-anchor="start" fill="#000" >300 kD</text>
<text x="377" y="344.8" font-size="10" font-weight="normal" text-anchor="start" fill="#000" >37 kD</text>
<text x="377" y="366.6" font-size="10" font-weight="normal" text-anchor="start" fill="#000" >50 kD</text>
<text x="377" y="388.3" font-size="10" font-weight="normal" text-anchor="start" fill="#000" >17 kD</text>
<g filter="url(#be)"><rect x="48.3" y="255.9" width="131.1" height="18.8" fill="#ececec"/></g>
<g filter="url(#bb)">
<rect x="54.5" y="259.5" width="10.0" height="13.0" rx="3.0" fill="#b2b2b2"/>
<rect x="67.8" y="259.5" width="10.0" height="13.0" rx="3.0" fill="#b8b8b8"/>
<rect x="82.1" y="259.5" width="10.0" height="13.0" rx="3.0" fill="#c2c2c2"/>
<rect x="96.7" y="259.5" width="10.0" height="13.0" rx="3.0" fill="#b2b2b2"/>
<rect x="110.5" y="259.5" width="10.0" height="13.0" rx="3.0" fill="#bdbdbd"/>
<rect x="124.7" y="259.5" width="10.0" height="13.0" rx="3.0" fill="#b8b8b8"/>
<rect x="138.6" y="259.5" width="10.0" height="13.0" rx="3.0" fill="#c7c7c7"/>
<rect x="152.8" y="259.5" width="10.0" height="13.0" rx="3.0" fill="#c7c7c7"/>
<rect x="167.2" y="259.5" width="10.0" height="13.0" rx="3.0" fill="#bdbdbd"/>
<rect x="54.5" y="260.5" width="10.0" height="4.2" rx="1.5" fill="#000000"/>
<rect x="67.8" y="260.5" width="10.0" height="4.2" rx="1.5" fill="#595959"/>
<rect x="82.1" y="260.5" width="10.0" height="4.2" rx="1.5" fill="#737373"/>
<rect x="96.7" y="260.5" width="10.0" height="4.2" rx="1.5" fill="#000000"/>
<rect x="110.5" y="260.5" width="10.0" height="4.2" rx="1.5" fill="#666666"/>
<rect x="124.7" y="260.5" width="10.0" height="4.2" rx="1.5" fill="#333333"/>
<rect x="138.6" y="260.5" width="10.0" height="4.2" rx="1.5" fill="#808080"/>
<rect x="152.8" y="260.5" width="10.0" height="4.2" rx="1.5" fill="#808080"/>
<rect x="167.2" y="260.5" width="10.0" height="4.2" rx="1.5" fill="#333333"/>
<rect x="54.5" y="267.0" width="10.0" height="5.4" rx="1.5" fill="#000000"/>
<rect x="67.8" y="267.0" width="10.0" height="5.4" rx="1.5" fill="#0d0d0d"/>
<rect x="82.1" y="267.0" width="10.0" height="5.4" rx="1.5" fill="#404040"/>
<rect x="96.7" y="267.0" width="10.0" height="5.4" rx="1.5" fill="#000000"/>
<rect x="110.5" y="267.0" width="10.0" height="5.4" rx="1.5" fill="#1f1f1f"/>
<rect x="124.7" y="267.0" width="10.0" height="5.4" rx="1.5" fill="#000000"/>
<rect x="138.6" y="267.0" width="10.0" height="5.4" rx="1.5" fill="#737373"/>
<rect x="152.8" y="267.0" width="10.0" height="5.4" rx="1.5" fill="#595959"/>
<rect x="167.2" y="267.0" width="10.0" height="5.4" rx="1.5" fill="#000000"/>
</g>
<g filter="url(#be)"><rect x="48.2" y="282.2" width="131.7" height="17.9" fill="#e2e2e2"/></g>
<g filter="url(#bb)">
<rect x="51.8" y="286.5" width="11.5" height="10.0" rx="3.0" fill="#949494"/>
<rect x="66.0" y="286.5" width="11.5" height="10.0" rx="3.0" fill="#949494"/>
<rect x="79.7" y="286.5" width="11.5" height="10.0" rx="3.0" fill="#9e9e9e"/>
<rect x="93.3" y="286.5" width="11.5" height="10.0" rx="3.0" fill="#858585"/>
<rect x="108.5" y="286.5" width="11.5" height="10.0" rx="3.0" fill="#858585"/>
<rect x="121.5" y="286.5" width="11.5" height="10.0" rx="3.0" fill="#a3a3a3"/>
<rect x="135.2" y="286.5" width="11.5" height="10.0" rx="3.0" fill="#737373"/>
<rect x="148.8" y="286.5" width="11.5" height="10.0" rx="3.0" fill="#666666"/>
<rect x="162.7" y="286.5" width="11.5" height="10.0" rx="3.0" fill="#666666"/>
<rect x="51.8" y="294.1" width="11.5" height="4.2" rx="1.5" fill="#525252"/>
<rect x="66.0" y="294.1" width="11.5" height="4.2" rx="1.5" fill="#525252"/>
<rect x="79.7" y="294.1" width="11.5" height="4.2" rx="1.5" fill="#666666"/>
<rect x="93.3" y="294.1" width="11.5" height="4.2" rx="1.5" fill="#404040"/>
<rect x="108.5" y="294.1" width="11.5" height="4.2" rx="1.5" fill="#333333"/>
<rect x="121.5" y="294.1" width="11.5" height="4.2" rx="1.5" fill="#737373"/>
<rect x="135.2" y="294.1" width="11.5" height="4.2" rx="1.5" fill="#0d0d0d"/>
<rect x="148.8" y="294.1" width="11.5" height="4.2" rx="1.5" fill="#000000"/>
<rect x="162.7" y="294.1" width="11.5" height="4.2" rx="1.5" fill="#000000"/>
</g>
<g filter="url(#be)"><rect x="47.9" y="309.7" width="132.1" height="12.4" fill="#dedede"/></g>
<g filter="url(#bb)">
<rect x="55.1" y="316.6" width="10.2" height="4.5" rx="1.5" fill="#adadad"/>
<rect x="68.2" y="316.6" width="10.2" height="4.5" rx="1.5" fill="#adadad"/>
<rect x="82.0" y="316.6" width="10.2" height="4.5" rx="1.5" fill="#adadad"/>
<rect x="95.1" y="316.6" width="10.2" height="4.5" rx="1.5" fill="#adadad"/>
<rect x="109.5" y="316.6" width="10.2" height="4.5" rx="1.5" fill="#adadad"/>
<rect x="122.6" y="316.6" width="10.2" height="4.5" rx="1.5" fill="#adadad"/>
<rect x="136.7" y="316.6" width="10.2" height="4.5" rx="1.5" fill="#adadad"/>
<rect x="150.2" y="316.6" width="10.2" height="4.5" rx="1.5" fill="#adadad"/>
<rect x="163.6" y="316.6" width="10.2" height="4.5" rx="1.5" fill="#adadad"/>
<rect x="55.1" y="312.9" width="10.2" height="4.6" rx="1.5" fill="#000000"/>
<rect x="68.2" y="312.9" width="10.2" height="4.6" rx="1.5" fill="#000000"/>
<rect x="82.0" y="312.9" width="10.2" height="4.6" rx="1.5" fill="#000000"/>
<rect x="95.1" y="312.9" width="10.2" height="4.6" rx="1.5" fill="#000000"/>
<rect x="109.5" y="312.9" width="10.2" height="4.6" rx="1.5" fill="#000000"/>
<rect x="122.6" y="312.9" width="10.2" height="4.6" rx="1.5" fill="#000000"/>
<rect x="136.7" y="312.9" width="10.2" height="4.6" rx="1.5" fill="#000000"/>
<rect x="150.2" y="312.9" width="10.2" height="4.6" rx="1.5" fill="#0d0d0d"/>
<rect x="163.6" y="312.9" width="10.2" height="4.6" rx="1.5" fill="#262626"/>
</g>
<g filter="url(#be)"><rect x="48.5" y="331.5" width="132.5" height="17.8" fill="#f6f6f6"/></g>
<g filter="url(#bb)">
<rect x="54.4" y="337.5" width="12.6" height="7.0" rx="3.0" fill="#000000"/>
<rect x="68.2" y="337.5" width="12.6" height="7.0" rx="3.0" fill="#000000"/>
<rect x="81.7" y="337.5" width="12.6" height="7.0" rx="3.0" fill="#000000"/>
<rect x="93.9" y="337.5" width="12.6" height="7.0" rx="3.0" fill="#000000"/>
<rect x="107.2" y="337.5" width="12.6" height="7.0" rx="3.0" fill="#000000"/>
<rect x="120.3" y="337.5" width="12.6" height="7.0" rx="3.0" fill="#000000"/>
<rect x="133.2" y="337.5" width="12.6" height="7.0" rx="3.0" fill="#000000"/>
<rect x="146.1" y="337.5" width="12.6" height="7.0" rx="3.0" fill="#000000"/>
<rect x="161.3" y="337.5" width="12.6" height="7.0" rx="3.0" fill="#000000"/>
</g>
<g filter="url(#be)"><rect x="47.9" y="355.5" width="132.1" height="13.4" fill="#d4d4d4"/></g>
<g filter="url(#bb)">
<rect x="53.0" y="361.5" width="10.5" height="5.6" rx="1.5" fill="#000000"/>
<rect x="66.7" y="361.5" width="10.5" height="5.6" rx="1.5" fill="#000000"/>
<rect x="80.5" y="361.5" width="10.5" height="5.6" rx="1.5" fill="#191919"/>
<rect x="95.0" y="361.5" width="10.5" height="5.6" rx="1.5" fill="#333333"/>
<rect x="109.5" y="361.5" width="10.5" height="5.6" rx="1.5" fill="#000000"/>
<rect x="123.7" y="361.5" width="10.5" height="5.6" rx="1.5" fill="#0d0d0d"/>
<rect x="137.8" y="361.5" width="10.5" height="5.6" rx="1.5" fill="#262626"/>
<rect x="151.4" y="361.5" width="10.5" height="5.6" rx="1.5" fill="#000000"/>
<rect x="165.8" y="361.5" width="10.5" height="5.6" rx="1.5" fill="#8c8c8c"/>
</g>
<g filter="url(#be)"><rect x="47.5" y="376.3" width="133.0" height="15.5" fill="#f4f4f4"/></g>
<g filter="url(#bb)">
<rect x="54.2" y="387.8" width="12.0" height="1.5" rx="0.8" fill="#e0e0e0"/>
<rect x="68.2" y="387.8" width="12.0" height="1.5" rx="0.8" fill="#e0e0e0"/>
<rect x="81.7" y="387.8" width="12.0" height="1.5" rx="0.8" fill="#e0e0e0"/>
<rect x="94.9" y="387.8" width="12.0" height="1.5" rx="0.8" fill="#e0e0e0"/>
<rect x="108.0" y="387.8" width="12.0" height="1.5" rx="0.8" fill="#e0e0e0"/>
<rect x="120.6" y="387.8" width="12.0" height="1.5" rx="0.8" fill="#e0e0e0"/>
<rect x="133.3" y="387.8" width="12.0" height="1.5" rx="0.8" fill="#e0e0e0"/>
<rect x="146.4" y="387.8" width="12.0" height="1.5" rx="0.8" fill="#e0e0e0"/>
<rect x="161.0" y="387.8" width="12.0" height="1.5" rx="0.8" fill="#e0e0e0"/>
<rect x="54.2" y="382.4" width="12.0" height="4.5" rx="1.5" fill="#000000"/>
<rect x="68.2" y="382.4" width="12.0" height="4.5" rx="1.5" fill="#262626"/>
<rect x="81.7" y="382.4" width="12.0" height="4.5" rx="1.5" fill="#404040"/>
<rect x="94.9" y="382.4" width="12.0" height="4.5" rx="1.5" fill="#404040"/>
<rect x="108.0" y="382.4" width="12.0" height="4.5" rx="1.5" fill="#404040"/>
<rect x="120.6" y="382.4" width="12.0" height="4.5" rx="1.5" fill="#595959"/>
<rect x="133.3" y="382.4" width="12.0" height="4.5" rx="1.5" fill="#000000"/>
<rect x="146.4" y="382.4" width="12.0" height="4.5" rx="1.5" fill="#000000"/>
<rect x="161.0" y="382.4" width="12.0" height="4.5" rx="1.5" fill="#000000"/>
</g>
<g filter="url(#be)"><rect x="227.2" y="255.9" width="132.4" height="19.0" fill="#ebebeb"/></g>
<g filter="url(#bb)">
<rect x="234.1" y="259.0" width="9.5" height="13.0" rx="3.0" fill="#9e9e9e"/>
<rect x="247.6" y="259.0" width="9.5" height="13.0" rx="3.0" fill="#a6a6a6"/>
<rect x="261.4" y="259.0" width="9.5" height="13.0" rx="3.0" fill="#9e9e9e"/>
<rect x="274.4" y="259.0" width="9.5" height="13.0" rx="3.0" fill="#949494"/>
<rect x="288.2" y="259.0" width="9.5" height="13.0" rx="3.0" fill="#999999"/>
<rect x="302.2" y="259.0" width="9.5" height="13.0" rx="3.0" fill="#b2b2b2"/>
<rect x="315.9" y="259.0" width="9.5" height="13.0" rx="3.0" fill="#a3a3a3"/>
<rect x="329.4" y="259.0" width="9.5" height="13.0" rx="3.0" fill="#a3a3a3"/>
<rect x="342.6" y="259.0" width="9.5" height="13.0" rx="3.0" fill="#949494"/>
<rect x="234.1" y="260.0" width="9.5" height="4.8" rx="1.5" fill="#666666"/>
<rect x="247.6" y="260.0" width="9.5" height="4.8" rx="1.5" fill="#737373"/>
<rect x="261.4" y="260.0" width="9.5" height="4.8" rx="1.5" fill="#595959"/>
<rect x="274.4" y="260.0" width="9.5" height="4.8" rx="1.5" fill="#191919"/>
<rect x="288.2" y="260.0" width="9.5" height="4.8" rx="1.5" fill="#262626"/>
<rect x="302.2" y="260.0" width="9.5" height="4.8" rx="1.5" fill="#808080"/>
<rect x="315.9" y="260.0" width="9.5" height="4.8" rx="1.5" fill="#595959"/>
<rect x="329.4" y="260.0" width="9.5" height="4.8" rx="1.5" fill="#595959"/>
<rect x="342.6" y="260.0" width="9.5" height="4.8" rx="1.5" fill="#191919"/>
<rect x="234.1" y="267.5" width="9.5" height="4.6" rx="1.5" fill="#000000"/>
<rect x="247.6" y="267.5" width="9.5" height="4.6" rx="1.5" fill="#0d0d0d"/>
<rect x="261.4" y="267.5" width="9.5" height="4.6" rx="1.5" fill="#000000"/>
<rect x="274.4" y="267.5" width="9.5" height="4.6" rx="1.5" fill="#000000"/>
<rect x="288.2" y="267.5" width="9.5" height="4.6" rx="1.5" fill="#000000"/>
<rect x="302.2" y="267.5" width="9.5" height="4.6" rx="1.5" fill="#666666"/>
<rect x="315.9" y="267.5" width="9.5" height="4.6" rx="1.5" fill="#0d0d0d"/>
<rect x="329.4" y="267.5" width="9.5" height="4.6" rx="1.5" fill="#0d0d0d"/>
<rect x="342.6" y="267.5" width="9.5" height="4.6" rx="1.5" fill="#000000"/>
</g>
<g filter="url(#be)"><rect x="227.2" y="282.3" width="132.4" height="17.4" fill="#f0f0f0"/></g>
<g filter="url(#bb)">
<rect x="233.1" y="285.5" width="10.5" height="4.0" rx="1.5" fill="#e0e0e0"/>
<rect x="246.8" y="285.5" width="10.5" height="4.0" rx="1.5" fill="#e0e0e0"/>
<rect x="261.2" y="285.5" width="10.5" height="4.0" rx="1.5" fill="#e0e0e0"/>
<rect x="275.4" y="285.5" width="10.5" height="4.0" rx="1.5" fill="#e0e0e0"/>
<rect x="289.2" y="285.5" width="10.5" height="4.0" rx="1.5" fill="#e0e0e0"/>
<rect x="303.8" y="285.5" width="10.5" height="4.0" rx="1.5" fill="#e0e0e0"/>
<rect x="317.9" y="285.5" width="10.5" height="4.0" rx="1.5" fill="#e0e0e0"/>
<rect x="332.1" y="285.5" width="10.5" height="4.0" rx="1.5" fill="#e0e0e0"/>
<rect x="345.9" y="285.5" width="10.5" height="4.0" rx="1.5" fill="#e0e0e0"/>
<rect x="233.1" y="294.0" width="10.5" height="3.6" rx="1.5" fill="#0d0d0d"/>
<rect x="246.8" y="294.0" width="10.5" height="3.6" rx="1.5" fill="#0d0d0d"/>
<rect x="261.2" y="294.0" width="10.5" height="3.6" rx="1.5" fill="#595959"/>
<rect x="275.4" y="294.0" width="10.5" height="3.6" rx="1.5" fill="#000000"/>
<rect x="289.2" y="294.0" width="10.5" height="3.6" rx="1.5" fill="#000000"/>
<rect x="303.8" y="294.0" width="10.5" height="3.6" rx="1.5" fill="#000000"/>
<rect x="317.9" y="294.0" width="10.5" height="3.6" rx="1.5" fill="#000000"/>
<rect x="332.1" y="294.0" width="10.5" height="3.6" rx="1.5" fill="#000000"/>
<rect x="345.9" y="294.0" width="10.5" height="3.6" rx="1.5" fill="#000000"/>
</g>
<g filter="url(#be)"><rect x="228" y="309.5" width="130.7" height="12.3" fill="#b8b8b8"/></g>
<g filter="url(#bb)">
<rect x="233.3" y="311.5" width="11.0" height="9.0" rx="3.0" fill="#808080"/>
<rect x="245.9" y="311.5" width="11.0" height="9.0" rx="3.0" fill="#808080"/>
<rect x="259.5" y="311.5" width="11.0" height="9.0" rx="3.0" fill="#8c8c8c"/>
<rect x="273.0" y="311.5" width="11.0" height="9.0" rx="3.0" fill="#949494"/>
<rect x="286.5" y="311.5" width="11.0" height="9.0" rx="3.0" fill="#8f8f8f"/>
<rect x="299.5" y="311.5" width="11.0" height="9.0" rx="3.0" fill="#949494"/>
<rect x="313.0" y="311.5" width="11.0" height="9.0" rx="3.0" fill="#999999"/>
<rect x="326.5" y="311.5" width="11.0" height="9.0" rx="3.0" fill="#9e9e9e"/>
<rect x="343.2" y="311.5" width="11.0" height="9.0" rx="3.0" fill="#8c8c8c"/>
<rect x="233.9" y="311.7" width="9.8" height="4.3" rx="1.5" fill="#000000"/>
<rect x="246.5" y="311.7" width="9.8" height="4.3" rx="1.5" fill="#000000"/>
<rect x="260.1" y="311.7" width="9.8" height="4.3" rx="1.5" fill="#616161"/>
<rect x="273.6" y="311.7" width="9.8" height="4.3" rx="1.5" fill="#808080"/>
<rect x="287.1" y="311.7" width="9.8" height="4.3" rx="1.5" fill="#7a7a7a"/>
<rect x="300.1" y="311.7" width="9.8" height="4.3" rx="1.5" fill="#8c8c8c"/>
<rect x="313.6" y="311.7" width="9.8" height="4.3" rx="1.5" fill="#8c8c8c"/>
<rect x="327.1" y="311.7" width="9.8" height="4.3" rx="1.5" fill="#949494"/>
<rect x="343.8" y="311.7" width="9.8" height="4.3" rx="1.5" fill="#595959"/>
</g>
<g filter="url(#be)"><rect x="229.2" y="331.5" width="132.4" height="17.8" fill="#f6f6f6"/></g>
<g filter="url(#bb)">
<rect x="236.6" y="337.0" width="12.6" height="6.8" rx="3.0" fill="#000000"/>
<rect x="250.3" y="337.0" width="12.6" height="6.8" rx="3.0" fill="#000000"/>
<rect x="262.9" y="337.0" width="12.6" height="6.8" rx="3.0" fill="#000000"/>
<rect x="276.1" y="337.6" width="12.6" height="5.6" rx="1.5" fill="#000000"/>
<rect x="289.2" y="337.0" width="12.6" height="6.8" rx="3.0" fill="#000000"/>
<rect x="301.4" y="337.0" width="12.6" height="6.8" rx="3.0" fill="#000000"/>
<rect x="314.0" y="337.0" width="12.6" height="6.8" rx="3.0" fill="#000000"/>
<rect x="326.9" y="337.0" width="12.6" height="6.8" rx="3.0" fill="#000000"/>
<rect x="341.5" y="337.0" width="12.6" height="6.8" rx="3.0" fill="#000000"/>
</g>
<g filter="url(#be)"><rect x="229.7" y="355.7" width="130.2" height="13.2" fill="#d8d8d8"/></g>
<g filter="url(#bb)">
<rect x="236.2" y="360.0" width="9.5" height="3.6" rx="1.5" fill="#191919"/>
<rect x="250.4" y="360.0" width="9.5" height="3.6" rx="1.5" fill="#191919"/>
<rect x="263.6" y="359.2" width="9.5" height="5.2" rx="1.5" fill="#000000"/>
<rect x="276.9" y="360.0" width="9.5" height="3.6" rx="1.5" fill="#595959"/>
<rect x="290.4" y="360.0" width="9.5" height="3.6" rx="1.5" fill="#737373"/>
<rect x="302.9" y="360.0" width="9.5" height="3.6" rx="1.5" fill="#8c8c8c"/>
<rect x="317.1" y="359.7" width="9.5" height="4.2" rx="1.5" fill="#000000"/>
<rect x="330.8" y="359.7" width="9.5" height="4.2" rx="1.5" fill="#000000"/>
<rect x="344.8" y="360.0" width="9.5" height="3.6" rx="1.5" fill="#595959"/>
</g>
<g filter="url(#be)"><rect x="228.6" y="376.1" width="133.0" height="15.7" fill="#f4f4f4"/></g>
<g filter="url(#bb)">
<rect x="235.7" y="388.0" width="12.0" height="2.0" rx="1.0" fill="#e0e0e0"/>
<rect x="250.0" y="388.0" width="12.0" height="2.0" rx="1.0" fill="#e0e0e0"/>
<rect x="263.5" y="388.0" width="12.0" height="2.0" rx="1.0" fill="#e0e0e0"/>
<rect x="277.0" y="388.0" width="12.0" height="2.0" rx="1.0" fill="#e0e0e0"/>
<rect x="290.0" y="388.0" width="12.0" height="2.0" rx="1.0" fill="#e0e0e0"/>
<rect x="303.7" y="388.0" width="12.0" height="2.0" rx="1.0" fill="#e0e0e0"/>
<rect x="317.0" y="388.0" width="12.0" height="2.0" rx="1.0" fill="#e0e0e0"/>
<rect x="330.4" y="388.0" width="12.0" height="2.0" rx="1.0" fill="#e0e0e0"/>
<rect x="344.7" y="388.0" width="12.0" height="2.0" rx="1.0" fill="#e0e0e0"/>
<rect x="235.7" y="382.6" width="12.0" height="4.5" rx="1.5" fill="#000000"/>
<rect x="250.0" y="382.6" width="12.0" height="4.5" rx="1.5" fill="#000000"/>
<rect x="263.5" y="382.6" width="12.0" height="4.5" rx="1.5" fill="#0d0d0d"/>
<rect x="277.0" y="382.6" width="12.0" height="4.5" rx="1.5" fill="#333333"/>
<rect x="290.0" y="382.6" width="12.0" height="4.5" rx="1.5" fill="#000000"/>
<rect x="303.7" y="382.6" width="12.0" height="4.5" rx="1.5" fill="#191919"/>
<rect x="317.0" y="382.6" width="12.0" height="4.5" rx="1.5" fill="#000000"/>
<rect x="330.4" y="382.6" width="12.0" height="4.5" rx="1.5" fill="#333333"/>
<rect x="344.7" y="382.6" width="12.0" height="4.5" rx="1.5" fill="#000000"/>
</g>
</g></svg>
</body></html>
